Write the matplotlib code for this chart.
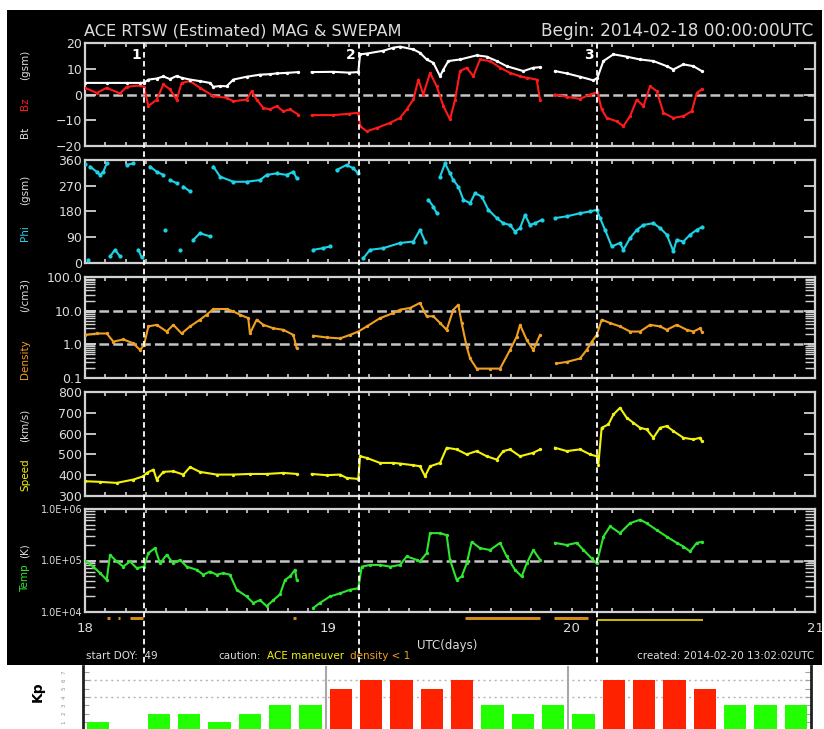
import numpy as np
import matplotlib
matplotlib.use("Agg")
import matplotlib.pyplot as plt
from matplotlib.patches import Rectangle
from matplotlib.lines import Line2D
from matplotlib.ticker import MultipleLocator, FixedLocator, FixedFormatter, LogLocator, NullFormatter
import matplotlib.transforms as mtransforms

plt.rcParams['font.family'] = ['DejaVu Sans']
plt.rcParams['lines.scale_dashes'] = False

nan = float('nan')

# ---------------- data (hours after 2014-02-18 00:00 UTC) ----------------
bt_hours = [0, 2.14, 4.11, 5.43, 5.82, 6.25, 7.07, 7.73, 8.38, 9.04, 9.53, 10.36, 11.34, 12.33, 12.66,
            13.32, 13.97, 14.63, 15.94, 17.26, 18.25, 18.91, 19.89, 21.04, 21.6, 22.36, 24.5, 26.0, 26.96,
            27.13, 27.79, 29.43, 30.42, 31.07, 32.39, 33.04, 33.7, 34.36, 35.02, 35.35, 35.84, 37.0,
            38.63, 39.62, 40.61, 41.59, 43.24, 44.22, 44.88, 45.6, 46.36, 47.51, 48.83, 50.14, 50.54,
            51.13, 52.12, 53.43, 54.75, 56.06, 57.38, 58.03, 59.02, 60.01, 60.83]
bt_values = [4.5, 4.5, 4.5, 4.5, 4.6, 5.8, 6.2, 7.0, 6.0, 7.2, 6.5, 5.8, 5.2, 4.5, 3.0,
             3.3, 3.2, 5.8, 6.9, 7.7, 7.9, 8.2, 8.4, 8.7, nan, 8.7, 8.8, 8.5, 8.7,
             15.6, 15.9, 17.0, 18.2, 18.6, 17.5, 16.2, 13.6, 12.3, 7.1, 9.7, 13.0, 13.6,
             15.2, 14.7, 13.0, 11.0, 9.1, 10.4, 10.6, nan, 9.1, 8.2, 6.9, 5.5, 6.5,
             13.0, 15.6, 14.7, 13.6, 13.0, 11.0, 9.7, 11.7, 11.0, 9.1]

bz_hours = [0, 1.15, 2.14, 3.45, 4.11, 5.43, 5.82, 6.25, 7.07, 7.73, 8.38, 9.04, 9.53, 10.36, 11.34,
            12.66, 13.97, 14.63, 15.94, 16.44, 16.93, 17.59, 18.25, 18.91, 19.56, 20.22, 21.04, 21.6,
            22.36, 24.5, 26.0, 26.96, 27.13, 27.79, 28.77, 30.09, 31.07, 31.73, 32.39, 32.88, 33.37,
            34.03, 34.69, 35.35, 36.0, 36.5, 36.99, 37.65, 38.3, 38.96, 39.95, 40.94, 41.92, 42.91,
            43.57, 44.55, 44.88, 45.6, 46.36, 47.51, 48.83, 49.81, 50.54, 50.96, 51.46, 52.44, 53.1,
            53.76, 54.42, 55.08, 55.73, 56.39, 57.05, 58.03, 59.02, 59.84, 60.34, 60.83]
bz_values = [2.6, 0.6, 2.6, 0.4, 3.0, 3.5, 3.0, -4.5, -2.0, 3.9, 2.0, -2.0, 4.5, 5.2, 2.6,
             -0.6, -1.3, -2.6, -2.0, 1.3, -2.0, -5.2, -5.8, -4.5, -6.5, -5.8, -7.8, nan,
             -8.0, -8.0, -7.5, -7.1, -12.3, -14.3, -13.0, -11.0, -9.1, -5.8, -1.9, 5.8, 0.0,
             8.4, 3.2, -4.5, -9.7, -2.0, 9.1, 10.4, 7.1, 13.6, 13.0, 10.4, 8.4, 7.1,
             6.5, 5.8, -2.0, nan, 0.0, -0.9, -1.7, 0.0, 0.9, -5.8, -9.1, -10.4, -12.3,
             -8.4, -2.0, -4.5, 3.2, 1.3, -7.1, -9.1, -8.4, -6.5, 0.6, 2.0]

phi_hours = [0.0, 0.33, 0.49, 1.15, 1.48, 1.81, 2.14, 2.47, 2.96, 3.45, 4.11, 4.77, 5.26, 5.59, 6.41,
             7.07, 7.73, 7.9, 8.38, 9.04, 9.37, 9.7, 10.36, 10.69, 11.34, 12.33, 12.66, 13.32, 14.63,
             15.94, 17.26, 17.92, 18.91, 19.89, 20.55, 20.88, 21.6, 22.52, 23.5, 24.16, 24.82, 25.8,
             26.46, 26.96, 27.46, 28.11, 29.43, 31.07, 32.39, 33.04, 33.54, 33.87, 34.36, 34.69,
             35.02, 35.51, 36.0, 36.33, 36.82, 37.32, 37.98, 38.47, 39.13, 39.78, 40.61, 41.26, 41.92,
             42.41, 42.91, 43.4, 43.89, 44.39, 45.05, 45.6, 46.36, 47.51, 48.83, 49.81, 50.47, 50.8,
             51.29, 51.95, 52.77, 53.1, 53.76, 54.42, 55.08, 56.06, 56.72, 57.38, 58.03, 58.36, 59.02,
             59.68, 60.34, 60.83]
phi_values = [345, 12, 337, 319, 308, 319, 348, 23, 46, 23, 343, 348, 46, 20, 337,
              319, 308, 116, 290, 279, 46, 267, 250, 81, 104, 93, 337, 302, 284,
              284, 290, 308, 313, 308, 319, 296, nan, 46, 52, 58, 325, 343,
              331, 313, 17, 46, 52, 70, 75, 116, 75, 221, 197, 174,
              302, 348, 313, 290, 267, 221, 209, 244, 232, 186, 157, 139, 133,
              110, 122, 168, 133, 139, 151, nan, 157, 163, 174, 180, 186, 157,
              116, 58, 70, 46, 87, 116, 133, 139, 122, 99, 41, 81, 75,
              99, 116, 125]

dens_hours = [0, 1.15, 2.14, 2.8, 3.78, 4.77, 5.43, 5.82, 6.25, 7.07, 8.06, 8.71, 9.53, 10.36, 11.34,
              12.0, 12.66, 13.97, 14.63, 15.28, 16.1, 16.27, 16.93, 17.59, 18.58, 19.56, 20.55, 20.88,
              21.6, 22.52, 23.83, 25.15, 26.13, 26.96, 27.79, 29.1, 30.42, 31.07, 32.06, 33.04, 33.7,
              34.36, 35.02, 35.67, 36.33, 36.82, 37.15, 37.65, 37.98, 38.63, 39.95, 40.94, 41.92,
              42.58, 42.91, 43.57, 44.22, 44.88, 45.5, 46.5, 47.51, 48.83, 49.48, 49.98, 50.47, 50.96,
              51.79, 52.77, 53.76, 54.75, 55.73, 56.72, 57.38, 58.36, 59.35, 60.01, 60.67, 60.83]
dens_values = [1.9, 2.1, 2.1, 1.2, 1.4, 1.07, 0.68, 0.95, 3.4, 3.8, 2.4, 3.8, 2.1, 3.4, 5.4,
               7.6, 11.2, 11.2, 9.5, 7.6, 6.0, 2.1, 5.4, 3.8, 3.0, 2.7, 1.9, 0.76,
               nan, 1.8, 1.6, 1.5, 1.9, 2.4, 3.4, 6.0, 8.5, 10.7, 12.0, 17.0, 6.8,
               6.8, 4.3, 2.7, 10.7, 15.0, 4.3, 0.85, 0.38, 0.19, 0.19, 0.19, 0.68,
               1.7, 3.8, 1.35, 0.68, 1.9, nan, 0.27, 0.3, 0.38, 0.68, 1.2, 1.9, 5.4,
               4.3, 3.4, 2.4, 2.4, 3.8, 3.4, 2.7, 3.8, 2.7, 2.4, 3.0, 2.4]

speed_hours = [0, 1.48, 3.12, 4.77, 5.76, 6.09, 6.75, 7.07, 7.73, 8.71, 9.7, 10.36, 11.34, 12.99, 14.63,
               16.27, 17.92, 19.56, 20.88, 21.6, 22.36, 23.83, 25.15, 25.8, 26.96, 27.13, 27.79, 29.1,
               30.42, 31.07, 32.39, 33.04, 33.54, 34.03, 35.02, 35.67, 36.66, 37.65, 38.63, 39.62,
               40.61, 41.26, 41.92, 42.91, 44.22, 44.88, 45.5, 46.36, 47.51, 48.83, 49.81, 50.47,
               50.63, 50.96, 51.62, 52.12, 52.77, 53.43, 54.09, 54.75, 55.4, 56.06, 56.72, 57.38,
               58.03, 59.02, 60.01, 60.67, 60.83]
speed_values = [371, 368, 363, 379, 395, 411, 427, 379, 416, 419, 403, 439, 416, 403, 403,
                406, 406, 411, 406, nan, 406, 400, 403, 387, 382, 491, 483, 459,
                459, 456, 448, 443, 395, 443, 459, 532, 524, 500, 516, 491,
                475, 516, 524, 491, 508, 524, nan, 532, 516, 524, 500, 491,
                451, 628, 644, 692, 724, 676, 652, 628, 620, 580, 628, 636,
                612, 580, 572, 580, 564]

temp_hours = [0, 0.82, 1.48, 2.14, 2.47, 3.12, 3.78, 4.44, 5.1, 5.82, 6.25, 6.9, 7.4, 8.06, 8.71,
              9.37, 10.03, 11.01, 11.67, 12.33, 12.99, 13.64, 14.3, 14.96, 15.94, 16.6, 17.26, 17.92,
              18.58, 19.23, 19.73, 20.22, 20.72, 20.88, 21.6, 22.52, 23.17, 24.16, 25.15, 26.13, 26.96,
              27.29, 28.11, 29.1, 30.09, 31.07, 31.73, 32.72, 33.04, 33.7, 34.03, 35.02, 35.67, 36.0,
              36.66, 37.15, 37.65, 38.14, 38.96, 39.95, 40.94, 41.59, 42.41, 43.07, 43.57, 44.22,
              44.88, 45.5, 46.36, 47.51, 48.5, 49.16, 49.98, 50.47, 51.13, 51.79, 52.77, 53.76,
              54.75, 55.4, 56.39, 57.38, 58.36, 59.02, 59.68, 60.34, 60.83]
temp_values = [1.0e5, 7.6e4, 5.7e4, 4.2e4, 1.29e5, 9.6e4, 7.6e4, 9.6e4, 7.1e4, 7.6e4, 1.39e5, 1.74e5,
               8.8e4, 1.29e5, 8.8e4, 1.03e5, 7.6e4, 6.6e4, 5.3e4, 6.1e4, 5.3e4, 5.7e4, 5.3e4, 2.7e4,
               2.0e4, 1.5e4, 1.7e4, 1.3e4, 1.7e4, 2.2e4, 4.2e4, 4.9e4, 6.6e4, 4.2e4, nan, 1.2e4,
               1.5e4, 2.0e4, 2.3e4, 2.7e4, 2.9e4, 7.6e4, 8.2e4, 8.2e4, 7.6e4, 8.2e4, 1.2e5, 1.03e5,
               9.6e4, 1.39e5, 3.4e5, 3.4e5, 3.1e5, 1.03e5, 4.2e4, 4.9e4, 8.8e4, 2.3e5, 1.74e5, 1.6e5,
               2.2e5, 1.2e5, 6.6e4, 4.9e4, 8.8e4, 1.6e5, 1.03e5, nan, 2.2e5, 2.0e5, 2.2e5, 1.6e5,
               1.1e5, 8.8e4, 2.9e5, 4.6e5, 3.4e5, 5.3e5, 6.2e5, 5.3e5, 3.9e5, 2.9e5, 2.2e5, 1.87e5,
               1.5e5, 2.2e5, 2.3e5]

event_days = [18.2425, 19.126, 20.104]
event_labels = ['1', '2', '3']

density_low_spans = [(18.090, 18.102), (18.136, 18.144), (18.185, 18.240), (18.853, 18.866),
                     (19.562, 19.870), (19.928, 20.067)]
maneuver_spans = [(20.104, 20.540)]

kp_values = [1, 0, 2, 2, 1, 2, 3, 3, 5, 6, 6, 5, 6, 3, 2, 3, 2, 6, 6, 6, 5, 3, 3, 3]

# ---------------- figure ----------------
W, H = 824, 729
fig = plt.figure(figsize=(W / 100, H / 100), dpi=100, facecolor='white')


def box(x0, y0, x1, y1):
    return [x0 / W, 1 - y1 / H, (x1 - x0) / W, (y1 - y0) / H]


fig.patches.append(Rectangle((7 / W, 1 - 665 / H), (822 - 7) / W, (665 - 10) / H,
                             transform=fig.transFigure, facecolor='black', edgecolor='none',
                             zorder=-10))

GREY = '#d2d2d2'
TXT = '#dcdcdc'
RED = '#ff1a1a'
CYAN = '#1ed2e6'
ORANGE = '#f0a020'
YELLOW = '#f2f20a'
GREEN = '#2ee62e'


def to_days(h):
    return 18 + np.asarray(h, dtype=float) / 24.0


def style_panel(ax):
    ax.set_facecolor('black')
    for s in ax.spines.values():
        s.set_color(GREY)
        s.set_linewidth(1.6)
    ax.set_xlim(18, 21)
    ax.xaxis.set_major_locator(MultipleLocator(1))
    ax.xaxis.set_minor_locator(MultipleLocator(1 / 12))
    ax.tick_params(axis='x', which='both', direction='in', top=True, bottom=True,
                   length=3, width=1.2, colors=GREY, labelbottom=False)
    ax.tick_params(axis='y', which='major', direction='in', left=True, right=True,
                   length=8, width=1.3, colors=GREY, labelcolor=TXT, labelsize=9, pad=2)
    ax.tick_params(axis='y', which='minor', direction='in', left=True, right=True,
                   length=7, width=1.0, colors=GREY)


def hdash(ax, y):
    ax.axhline(y, color='#c4c4c4', lw=1.8, dashes=(7, 3), zorder=1)


TRACE = dict(lw=1.5, marker='o', ms=1.4, zorder=3)

panels = [(43, 146), (160, 263), (277, 378), (392, 496), (509, 612)]
axes = [fig.add_axes(box(85, a, 815, b)) for a, b in panels]
for ax in axes:
    style_panel(ax)

# Bt / Bz
ax = axes[0]
ax.set_ylim(-20, 20)
ax.set_yticks([-20, -10, 0, 10, 20])
ax.set_yticklabels(['\u221220', '\u221210', '0', '10', '20'])
hdash(ax, 0)
ax.plot(to_days(bz_hours), bz_values, color=RED, **TRACE)
ax.plot(to_days(bt_hours), bt_values, color='white', lw=1.5, marker='o', ms=1.4, zorder=4)

# Phi (break the trace where the angle wraps)
ax = axes[1]
ax.set_ylim(0, 360)
ax.set_yticks([0, 90, 180, 270, 360])
ph_t = to_days(phi_hours)
ph_v = np.array(phi_values, dtype=float)
jump = np.abs(np.diff(ph_v)) > 80
seg_t, seg_v = [ph_t[0]], [ph_v[0]]
for i in range(1, len(ph_v)):
    if jump[i - 1]:
        seg_t.append(nan)
        seg_v.append(nan)
    seg_t.append(ph_t[i])
    seg_v.append(ph_v[i])
ax.plot(seg_t, seg_v, color=CYAN, lw=1.5, zorder=3)
ax.plot(ph_t, ph_v, ls='none', marker='o', ms=2.0, color=CYAN, zorder=3)

# Density
ax = axes[2]
ax.set_yscale('log')
ax.set_ylim(0.1, 100)
ax.yaxis.set_major_locator(FixedLocator([0.1, 1, 10, 100]))
ax.yaxis.set_major_formatter(FixedFormatter(['0.1', '1.0', '10.0', '100.0']))
ax.yaxis.set_minor_locator(LogLocator(base=10, subs=np.arange(2, 10)))
ax.yaxis.set_minor_formatter(NullFormatter())
hdash(ax, 1)
hdash(ax, 10)
ax.plot(to_days(dens_hours), dens_values, color=ORANGE, **TRACE)

# Speed
ax = axes[3]
ax.set_ylim(300, 800)
ax.set_yticks([300, 400, 500, 600, 700, 800])
ax.plot(to_days(speed_hours), speed_values, color=YELLOW, **TRACE)

# Temperature
ax = axes[4]
ax.set_yscale('log')
ax.set_ylim(1e4, 1e6)
ax.yaxis.set_major_locator(FixedLocator([1e4, 1e5, 1e6]))
ax.yaxis.set_major_formatter(FixedFormatter(['1.0E+04', '1.0E+05', '1.0E+06']))
ax.yaxis.set_minor_locator(LogLocator(base=10, subs=np.arange(2, 10)))
ax.yaxis.set_minor_formatter(NullFormatter())
ax.tick_params(axis='y', labelsize=7)
hdash(ax, 1e5)
ax.plot(to_days(temp_hours), temp_values, color=GREEN, **TRACE)
ax.set_xticks([18, 19, 20, 21])
ax.set_xticklabels(['18', '19', '20', '21'])
ax.tick_params(axis='x', which='major', labelbottom=True, labelcolor=TXT, labelsize=9.5, pad=7)

# caution bars under the temperature panel
bar_tr = mtransforms.blended_transform_factory(ax.transData, fig.transFigure)
for a, b in density_low_spans:
    ax.add_line(Line2D([a, b], [1 - 617.5 / H] * 2, transform=bar_tr, color='#d08a18',
                       lw=2.2, clip_on=False, solid_capstyle='butt'))
for a, b in maneuver_spans:
    ax.add_line(Line2D([a, b], [1 - 620 / H] * 2, transform=bar_tr, color='#c8b400',
                       lw=1.5, clip_on=False, solid_capstyle='butt'))

# event markers spanning all panels
ev_tr = mtransforms.blended_transform_factory(axes[0].transData, fig.transFigure)
for d, lab in zip(event_days, event_labels):
    fig.add_artist(Line2D([d, d], [1 - 43 / H, 1 - 665 / H], transform=ev_tr, color='white',
                          lw=1.3, dashes=(4, 2.5), zorder=5))
    axes[0].text(d - 0.012, 15.5, lab, color='white', fontsize=10, fontweight='bold',
                 ha='right', va='center', zorder=6)

# axis titles (multi-coloured, rotated)
LX = 25 / W
lab_fs = 7.5


def vlabel(yc, s, color):
    fig.text(LX, 1 - yc / H, s, rotation=90, ha='center', va='center', color=color, fontsize=lab_fs)


vlabel(132, 'Bt', TXT)
vlabel(104, 'Bz', RED)
vlabel(65, '(gsm)', TXT)
vlabel(233, 'Phi', CYAN)
vlabel(190, '(gsm)', TXT)
vlabel(359, 'Density', ORANGE)
vlabel(295, '(/cm3)', TXT)
vlabel(475, 'Speed', YELLOW)
vlabel(425, '(km/s)', TXT)
vlabel(578, 'Temp', GREEN)
vlabel(551, '(K)', TXT)

# header and footer text
fig.text(84 / W, 1 - 31 / H, 'ACE RTSW (Estimated) MAG & SWEPAM', color=TXT, fontsize=11.6,
         ha='left', va='center')
fig.text(813 / W, 1 - 31 / H, 'Begin: 2014-02-18 00:00:00UTC', color=TXT, fontsize=12.2,
         ha='right', va='center')
fig.text(417 / W, 1 - 645 / H, 'UTC(days)', color=TXT, fontsize=8.5, ha='left', va='center')
fy = 1 - 656 / H
fig.text(86 / W, fy, 'start DOY:  49', color=TXT, fontsize=7.5, ha='left', va='center')
fig.text(218 / W, fy, 'caution:', color=TXT, fontsize=7.5, ha='left', va='center')
fig.text(267 / W, fy, 'ACE maneuver', color=YELLOW, fontsize=7.5, ha='left', va='center')
fig.text(350 / W, fy, 'density < 1', color=ORANGE, fontsize=7.5, ha='left', va='center')
fig.text(814 / W, fy, 'created: 2014-02-20 13:02:02UTC', color=TXT, fontsize=7.5,
         ha='right', va='center')

# ---------------- Kp bars ----------------
kax = fig.add_axes(box(83, 666, 811, 729))
kax.set_facecolor('white')
kax.set_xlim(0, 24)
kax.set_ylim(0.125, 7.75)
kp_x = np.arange(len(kp_values)) + 0.5
kp_colors = ['#ff2200' if v >= 5 else ('#ffee00' if v == 4 else '#22ff00') for v in kp_values]
kax.bar(kp_x, kp_values, width=0.74, color=kp_colors, zorder=3)
for g in (4, 6):
    kax.axhline(g, color='#b4b4b4', lw=1.0, ls=(0, (1.5, 2.5)), zorder=1)
for d in (8, 16):
    kax.axvline(d, color='#a8a8a8', lw=1.5, zorder=2)
for s in ('top', 'bottom'):
    kax.spines[s].set_visible(False)
for s in ('left', 'right'):
    kax.spines[s].set_color('#202020')
    kax.spines[s].set_linewidth(2)
kax.set_xticks([])
kax.set_yticks([1, 2, 3, 4, 5, 6, 7])
kax.set_yticklabels(['1', '2', '3', '4', '5', '6', '7'], rotation=90, va='center')
kax.tick_params(axis='y', direction='in', left=True, right=True, length=4, width=0.8,
                colors='#a0a0a0', labelcolor='#909090', labelsize=4, pad=12)
fig.text(38 / W, 1 - 692 / H, 'Kp', rotation=90, ha='center', va='center', color='black',
         fontsize=10, fontweight='bold')

fig.savefig('out.png', dpi=100, facecolor='white')
